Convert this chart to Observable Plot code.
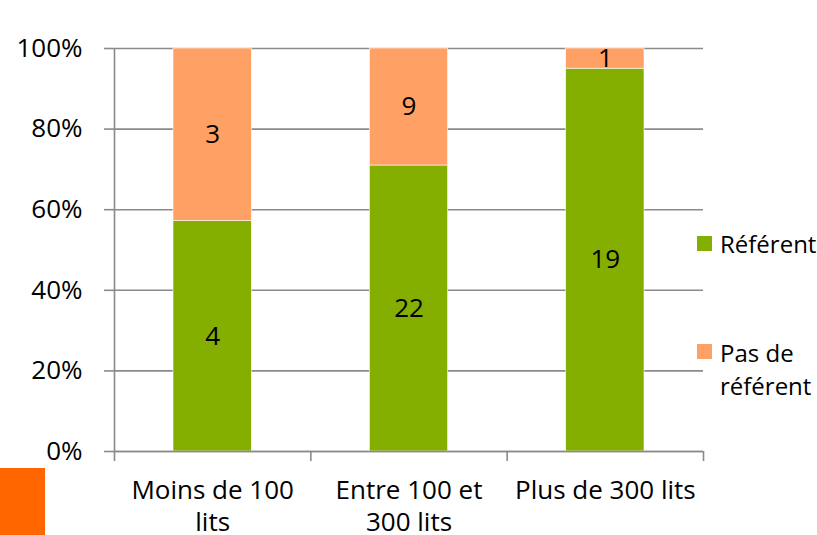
<!DOCTYPE html>
<html>
<head>
<meta charset="utf-8">
<script src="https://cdn.jsdelivr.net/npm/d3@7"></script>
<script src="https://cdn.jsdelivr.net/npm/@observablehq/plot@0.6"></script>
<style>
  html, body { margin: 0; padding: 0; background: #fff; }
  #wrap { position: relative; width: 817px; height: 535px; overflow: hidden; font-family: "Open Sans", sans-serif; color: #000; }
  #chart { position: absolute; left: 0; top: 0; }
  .lg { position: absolute; font-size: 24px; line-height: 33px; white-space: nowrap; }
  .sw { position: absolute; width: 15px; height: 15px; }
  #deco { position: absolute; left: 0; top: 468px; width: 45px; height: 67px; background: #FF6600; }
</style>
</head>
<body>
<div id="wrap">
  <div id="chart"></div>
  <div id="deco"></div>
  <div class="sw" style="left:697px; top:236px; background:#84AE00;"></div>
  <div class="lg" style="left:720px; top:227px;">Référent</div>
  <div class="sw" style="left:697px; top:344px; background:#FFA064;"></div>
  <div class="lg" style="left:720px; top:336px;">Pas de<br>référent</div>
</div>
<script>
const categories = ["Moins de 100\nlits", "Entre 100 et\n300 lits", "Plus de 300 lits"];
const referent = [4, 22, 19];
const pasReferent = [3, 9, 1];
const seriesNames = ["Référent", "Pas de référent"];
const seriesColors = ["#84AE00", "#FFA064"];
const yTicks = [0, 0.2, 0.4, 0.6, 0.8, 1];

// Build normalized stacked rows from the arrays
const rows = [];
categories.forEach((c, i) => {
  const total = referent[i] + pasReferent[i];
  let acc = 0;
  [referent[i], pasReferent[i]].forEach((v, s) => {
    rows.push({cat: c, i, series: seriesNames[s], value: v, y1: acc / total, y2: (acc + v) / total});
    acc += v;
  });
});

const chart = Plot.plot({
  width: 817,
  height: 535,
  marginLeft: 114,
  marginRight: 114,
  marginTop: 48,
  marginBottom: 84,
  style: {fontFamily: "Open Sans, sans-serif", fontSize: "26px", color: "#000", background: "transparent", overflow: "visible"},
  x: {domain: [0, categories.length], axis: null},
  y: {domain: [0, 1], axis: null},
  color: {domain: seriesNames, range: seriesColors},
  marks: [
    Plot.ruleY(yTicks, {stroke: "#8a8a8a", strokeWidth: 1.6}),
    Plot.rectY(rows, {
      x1: d => d.i, x2: d => d.i + 1, y1: "y1", y2: "y2",
      fill: "series", insetLeft: 59, insetRight: 59,
      stroke: "#ffffff", strokeWidth: 0.6
    }),
    Plot.ruleX([0], {y1: 0, y2: 1, stroke: "#8a8a8a", strokeWidth: 1.6}),
    Plot.ruleY([0], {stroke: "#8a8a8a", strokeWidth: 1.6}),
    Plot.text(rows, {
      x: d => d.i + 0.5, y: d => (d.y1 + d.y2) / 2, text: d => String(d.value),
      fill: "#000", fontSize: 26
    }),
    Plot.axisY({ticks: yTicks, tickSize: 10, tickPadding: 22, tickFormat: d3.format(".0%"),
      stroke: "#8a8a8a", strokeWidth: 1.6, fill: "#000", fontSize: 26}),
    Plot.axisX({ticks: d3.range(categories.length + 1), tickSize: 10, tickFormat: () => "",
      stroke: "#8a8a8a", strokeWidth: 1.6}),
    Plot.text(categories, {
      x: (d, i) => i + 0.5, frameAnchor: "bottom", lineAnchor: "top", dy: 25,
      lineHeight: 1.22, text: d => d, fill: "#000", fontSize: 26
    })
  ]
});
document.getElementById("chart").appendChild(chart);
</script>
</body>
</html>
